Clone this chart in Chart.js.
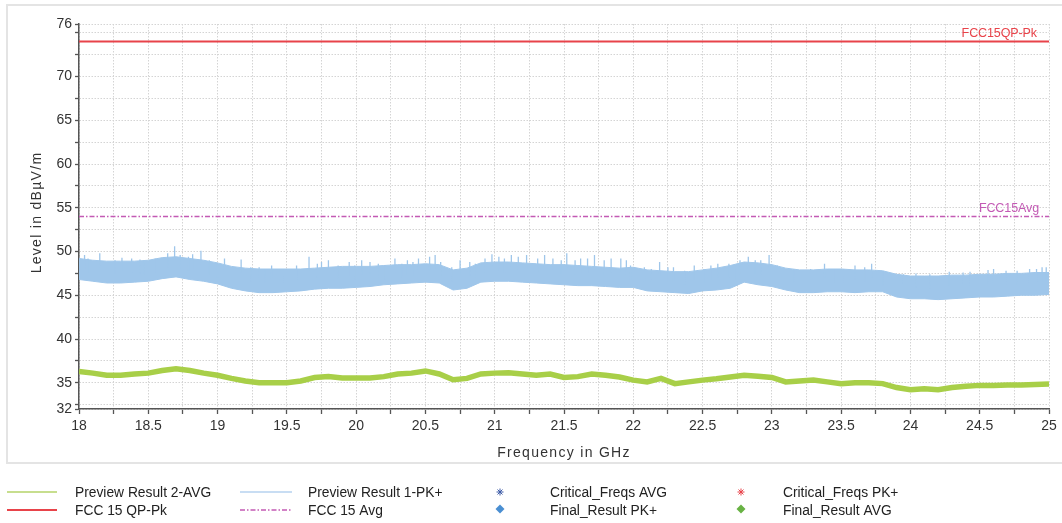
<!DOCTYPE html>
<html>
<head>
<meta charset="utf-8">
<script src="https://cdn.jsdelivr.net/npm/chart.js@4.4.1/dist/chart.umd.min.js"></script>
<style>
  html, body { margin: 0; padding: 0; background: #fff; }
  canvas { display: block; }
</style>
</head>
<body>
<canvas id="emc" width="1062" height="523"></canvas>
<script>
// sweep frequencies, GHz
const freqs = [
  18.0, 18.1, 18.2, 18.3, 18.4, 18.5, 18.6, 18.7, 18.8, 18.9,
  19.0, 19.1, 19.2, 19.3, 19.4, 19.5, 19.6, 19.7, 19.8, 19.9,
  20.0, 20.1, 20.2, 20.3, 20.4, 20.5, 20.6, 20.7, 20.8, 20.9,
  21.0, 21.1, 21.2, 21.3, 21.4, 21.5, 21.6, 21.7, 21.8, 21.9,
  22.0, 22.1, 22.2, 22.3, 22.4, 22.5, 22.6, 22.7, 22.8, 22.9,
  23.0, 23.1, 23.2, 23.3, 23.4, 23.5, 23.6, 23.7, 23.8, 23.9,
  24.0, 24.1, 24.2, 24.3, 24.4, 24.5, 24.6, 24.7, 24.8, 24.9, 25.0
];

// Preview Result 1-PK+ : top and bottom of the noise band, dBuV/m
const pkUpper = [
  49.2, 49.0, 48.9, 48.9, 48.9, 49.0, 49.3, 49.4, 49.2, 49.0,
  48.7, 48.3, 48.1, 48.0, 48.0, 48.0, 48.0, 48.1, 48.2, 48.3,
  48.3, 48.3, 48.4, 48.5, 48.5, 48.6, 48.5, 47.9, 48.1, 48.7,
  48.8, 48.8, 48.7, 48.6, 48.5, 48.5, 48.4, 48.3, 48.2, 48.1,
  48.2, 47.9, 47.8, 47.7, 47.7, 47.9, 48.1, 48.4, 48.8, 48.7,
  48.5, 48.1, 47.9, 47.9, 48.0, 48.0, 47.9, 47.9, 47.8, 47.4,
  47.2, 47.2, 47.2, 47.3, 47.3, 47.4, 47.4, 47.5, 47.5, 47.6, 47.6
];
const pkLower = [
  46.8, 46.6, 46.4, 46.4, 46.5, 46.6, 46.9, 47.1, 46.8, 46.6,
  46.3, 45.8, 45.5, 45.3, 45.3, 45.4, 45.5, 45.7, 45.8, 45.8,
  45.9, 46.0, 46.2, 46.3, 46.4, 46.5, 46.4, 45.6, 45.8, 46.5,
  46.6, 46.6, 46.5, 46.4, 46.3, 46.2, 46.1, 46.1, 46.0, 45.9,
  45.9, 45.5, 45.4, 45.3, 45.2, 45.5, 45.6, 45.8, 46.5, 46.2,
  46.0, 45.6, 45.3, 45.3, 45.4, 45.4, 45.3, 45.4, 45.4, 44.8,
  44.6, 44.6, 44.5, 44.6, 44.7, 44.8, 44.8, 44.9, 45.0, 45.0, 45.1
];

// isolated PK+ peaks sticking out of the band
const spikeFreqs = [
  18.04, 18.065, 18.15, 18.26, 18.31, 18.38, 18.44, 18.47, 18.55, 18.64,
  18.69, 18.73, 18.79, 18.82, 18.88, 18.94, 19.00, 19.05, 19.17, 19.24,
  19.30, 19.34, 19.39, 19.48, 19.57, 19.66, 19.72, 19.75, 19.80, 19.87,
  19.95, 19.99, 20.04, 20.10, 20.16, 20.21, 20.28, 20.33, 20.37, 20.41,
  20.45, 20.53, 20.57, 20.61, 20.69, 20.75, 20.82, 20.86, 20.93, 20.98,
  21.03, 21.07, 21.12, 21.17, 21.23, 21.31, 21.36, 21.42, 21.48, 21.52,
  21.58, 21.62, 21.67, 21.72, 21.79, 21.84, 21.91, 21.95, 21.98, 22.08,
  22.13, 22.19, 22.25, 22.29, 22.37, 22.44, 22.51, 22.56, 22.61, 22.69,
  22.73, 22.77, 22.83, 22.88, 22.92, 22.98, 23.04, 23.16, 23.28, 23.38,
  23.45, 23.52, 23.60, 23.67, 23.72, 23.80, 23.95, 24.04, 24.14, 24.28,
  24.38, 24.43, 24.56, 24.60, 24.69, 24.77, 24.86, 24.91, 24.95, 24.98
];
const spikePeaks = [
  49.6, 49.2, 49.8, 49.0, 49.3, 49.2, 49.1, 48.9, 49.2, 49.8,
  50.6, 49.6, 49.4, 49.7, 50.1, 49.0, 48.6, 49.2, 49.1, 48.2,
  48.2, 48.0, 48.4, 48.0, 48.4, 49.4, 48.6, 48.8, 49.0, 48.4,
  48.8, 48.4, 49.0, 48.8, 48.6, 48.4, 49.2, 48.6, 49.0, 48.8,
  49.2, 49.4, 49.6, 48.8, 48.2, 49.0, 48.8, 48.6, 49.2, 49.7,
  49.4, 49.2, 49.6, 49.4, 49.6, 49.2, 49.6, 49.2, 49.0, 49.8,
  49.0, 49.2, 49.2, 49.6, 49.0, 49.2, 49.2, 49.0, 48.4, 48.2,
  48.0, 48.8, 48.2, 48.2, 47.8, 48.4, 48.0, 48.4, 48.6, 48.6,
  48.4, 49.0, 49.4, 49.0, 49.0, 49.6, 48.4, 48.0, 48.0, 48.6,
  48.0, 48.0, 48.4, 48.2, 48.6, 47.7, 47.4, 47.5, 47.4, 47.7,
  47.6, 47.7, 47.9, 48.0, 47.8, 47.8, 48.0, 48.0, 48.2, 48.2
];
const SPIKE_DEPTH = 1.6;

// Preview Result 2-AVG
const avgLevel = [
  36.3, 36.1, 35.85, 35.85, 36.0, 36.1, 36.4, 36.6, 36.4, 36.1,
  35.85, 35.5, 35.2, 35.0, 35.0, 35.0, 35.2, 35.6, 35.7, 35.55,
  35.55, 35.55, 35.7, 36.0, 36.1, 36.35, 36.0, 35.35, 35.5, 36.0,
  36.1, 36.15, 36.0, 35.85, 36.0, 35.6, 35.7, 36.0, 35.85, 35.65,
  35.3, 35.1, 35.5, 34.9, 35.1, 35.3, 35.45, 35.65, 35.85, 35.75,
  35.6, 35.1, 35.2, 35.3, 35.1, 34.9, 35.0, 35.0, 34.9, 34.45,
  34.2, 34.3, 34.2, 34.45, 34.6, 34.7, 34.7, 34.75, 34.75, 34.8, 34.85
];

// limit lines
const limitQpPk = 74;
const limitAvg = 54;

const yTickValues = [32, 32.5, 35, 37.5, 40, 42.5, 45, 47.5, 50, 52.5, 55, 57.5,
  60, 62.5, 65, 67.5, 70, 72.5, 75, 76];
const yTickLabels = [32, 35, 40, 45, 50, 55, 60, 65, 70, 76];

const X_TITLE = 'Frequency in GHz';
const Y_TITLE = 'Level in dB\u00b5V/m';

const legendRows = [
  ['Preview Result 2-AVG', 'Preview Result 1-PK+', 'Critical_Freqs AVG', 'Critical_Freqs PK+'],
  ['FCC 15 QP-Pk', 'FCC 15 Avg', 'Final_Result PK+', 'Final_Result AVG']
];

const C_AVG = '#a8cf48';
const C_PK = '#9fc6ea';
const C_QP = '#e8434a';
const C_LAVG = '#c35ab4';
const FONT = '"Liberation Sans", Arial, sans-serif';

Chart.defaults.font.family = FONT;
Chart.defaults.color = '#333';

const pts = vals => freqs.map((f, i) => ({ x: f, y: vals[i] }));

const spikeData = [];
spikeFreqs.forEach((f, i) => {
  spikeData.push({ x: f, y: spikePeaks[i] });
  spikeData.push({ x: f, y: spikePeaks[i] - SPIKE_DEPTH });
  spikeData.push({ x: f, y: null });
});

function drawStar(ctx, cx, cy, r, color) {
  ctx.strokeStyle = color;
  ctx.lineWidth = 1;
  ctx.beginPath();
  for (let k = 0; k < 4; k++) {
    const a = k * Math.PI / 4;
    ctx.moveTo(cx - r * Math.cos(a), cy - r * Math.sin(a));
    ctx.lineTo(cx + r * Math.cos(a), cy + r * Math.sin(a));
  }
  ctx.stroke();
}

function drawDiamond(ctx, cx, cy, r, color) {
  ctx.fillStyle = color;
  ctx.beginPath();
  ctx.moveTo(cx, cy - r);
  ctx.lineTo(cx + r, cy);
  ctx.lineTo(cx, cy + r);
  ctx.lineTo(cx - r, cy);
  ctx.closePath();
  ctx.fill();
}

const decor = {
  id: 'decor',
  beforeDraw(chart) {
    const ctx = chart.ctx;
    ctx.save();
    ctx.strokeStyle = '#e4e4e4';
    ctx.lineWidth = 2;
    ctx.strokeRect(7, 5, chart.width + 10, 458);
    ctx.restore();
  },
  afterDraw(chart) {
    const { ctx, scales: { x, y } } = chart;

    // axis titles
    ctx.save();
    ctx.fillStyle = '#333';
    ctx.font = '14px ' + FONT;
    ctx.letterSpacing = '1.3px';
    ctx.textAlign = 'center';
    ctx.textBaseline = 'middle';
    ctx.fillText(X_TITLE, (x.left + x.right) / 2, 453);
    ctx.translate(37, (y.top + y.bottom) / 2 - 4);
    ctx.rotate(-Math.PI / 2);
    ctx.fillText(Y_TITLE, 0, 0);
    ctx.restore();

    // limit line captions
    ctx.save();
    ctx.font = '12.5px ' + FONT;
    ctx.letterSpacing = '-0.1px';
    ctx.textAlign = 'right';
    ctx.textBaseline = 'bottom';
    ctx.fillStyle = C_QP;
    ctx.fillText('FCC15QP-Pk', x.right - 12, y.getPixelForValue(limitQpPk) - 2);
    ctx.fillStyle = C_LAVG;
    ctx.fillText('FCC15Avg', x.right - 10, y.getPixelForValue(limitAvg) - 2);
    ctx.restore();

    // legend
    ctx.save();
    ctx.font = '13.8px ' + FONT;
    ctx.fillStyle = '#222';
    ctx.textBaseline = 'middle';
    const rowY = [493, 511];
    const textX = [75, 308, 550, 783];
    legendRows.forEach((row, r) => row.forEach((name, c) => {
      ctx.fillText(name, textX[c], rowY[r]);
    }));
    const line = (x0, x1, yy, color, w, dash) => {
      ctx.save();
      ctx.strokeStyle = color;
      ctx.lineWidth = w;
      ctx.setLineDash(dash || []);
      ctx.beginPath();
      ctx.moveTo(x0, yy);
      ctx.lineTo(x1, yy);
      ctx.stroke();
      ctx.restore();
    };
    line(7, 57, rowY[0] - 1, '#c7de8e', 2);
    line(7, 57, rowY[1] - 1, C_QP, 2);
    line(240, 292, rowY[0] - 1, '#c8ddf3', 2);
    line(240, 292, rowY[1] - 1, C_LAVG, 1.5, [5, 2, 1.5, 2]);
    drawStar(ctx, 500, rowY[0] - 1, 3.5, '#3c5aa6');
    drawStar(ctx, 741, rowY[0] - 1, 3.5, C_QP);
    drawDiamond(ctx, 500, rowY[1] - 2, 4.5, '#4a8fd2');
    drawDiamond(ctx, 741, rowY[1] - 2, 4.5, '#68b244');
    ctx.restore();
  }
};

new Chart(document.getElementById('emc'), {
  type: 'line',
  data: {
    datasets: [
      {
        label: 'Preview Result 2-AVG',
        data: pts(avgLevel),
        borderColor: C_AVG,
        borderWidth: 5.5,
        order: 0
      },
      {
        label: 'PK+ peaks',
        data: spikeData,
        borderColor: C_PK,
        borderWidth: 1.3,
        spanGaps: false,
        order: 1
      },
      {
        label: 'Preview Result 1-PK+',
        data: pts(pkUpper),
        borderColor: C_PK,
        backgroundColor: C_PK,
        borderWidth: 1,
        fill: '+1',
        order: 2
      },
      {
        label: 'PK+ lower',
        data: pts(pkLower),
        borderColor: C_PK,
        borderWidth: 1,
        order: 3
      },
      {
        label: 'FCC 15 QP-Pk',
        data: [{ x: 18, y: limitQpPk }, { x: 25, y: limitQpPk }],
        borderColor: C_QP,
        borderWidth: 2,
        order: 4
      },
      {
        label: 'FCC 15 Avg',
        data: [{ x: 18, y: limitAvg }, { x: 25, y: limitAvg }],
        borderColor: C_LAVG,
        borderWidth: 1.5,
        borderDash: [5, 2, 1.5, 2],
        order: 5
      }
    ]
  },
  options: {
    responsive: false,
    animation: false,
    events: [],
    layout: { padding: { left: 0, right: 13, top: 24, bottom: 0 } },
    elements: { point: { radius: 0 }, line: { tension: 0 } },
    plugins: {
      legend: { display: false },
      tooltip: { enabled: false }
    },
    scales: {
      x: {
        type: 'linear',
        min: 18,
        max: 25,
        afterFit: s => { s.height = 114; },
        ticks: {
          stepSize: 0.25,
          autoSkip: false,
          maxRotation: 0,
          padding: 4,
          color: '#333',
          font: { size: 14 },
          callback: v => (v % 0.5 === 0 ? String(v) : '')
        },
        grid: { color: '#d4d4d4', lineWidth: 1, tickLength: 5, tickColor: '#555', tickWidth: 1.3 },
        border: { display: true, color: '#555', width: 1.5, dash: [1.5, 1.5] }
      },
      y: {
        type: 'linear',
        min: 32,
        max: 76,
        afterFit: s => { s.width = 79; },
        afterBuildTicks: s => { s.ticks = yTickValues.map(v => ({ value: v })); },
        ticks: {
          autoSkip: false,
          padding: 3,
          color: '#333',
          font: { size: 14 },
          callback: v => (yTickLabels.includes(v) ? String(v) : '')
        },
        grid: { color: '#d4d4d4', lineWidth: 1, tickLength: 4, tickColor: '#555', tickWidth: 1.3 },
        border: { display: true, color: '#555', width: 1.5, dash: [1.5, 1.5] }
      }
    }
  },
  plugins: [decor]
});
</script>
</body>
</html>
